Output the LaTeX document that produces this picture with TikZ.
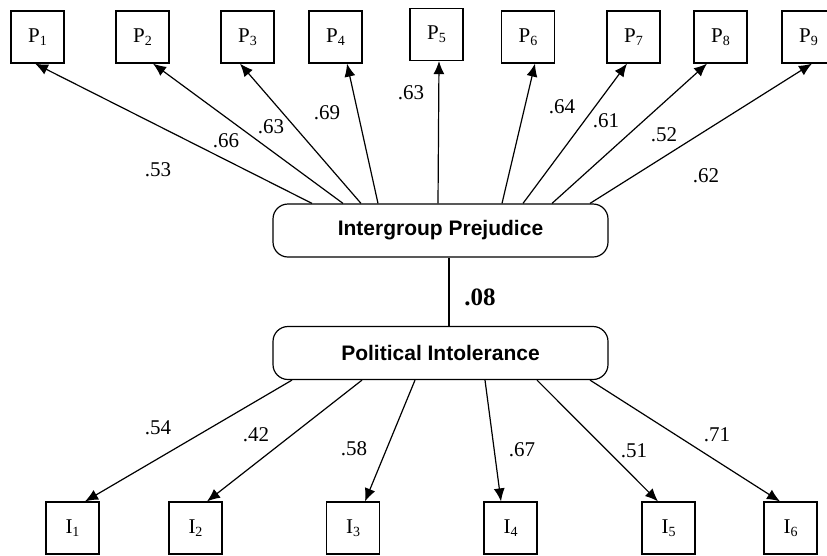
\documentclass[tikz,border=0pt]{standalone}
\usepackage{fontspec}
\setmainfont{Liberation Serif}
\newfontfamily\boxfont{Liberation Sans}
\usetikzlibrary{arrows.meta}
\tikzset{
  obsbox/.style={draw, line width=1.2pt, minimum width=53pt, minimum height=52pt, inner sep=0pt, font=\fontsize{21}{24}\selectfont},
  latbox/.style={draw, line width=1.2pt, rounded corners=15pt, minimum width=335pt, minimum height=53pt, inner sep=0pt, font=\boxfont\bfseries\fontsize{21}{24}\selectfont},
  load/.style={line width=1.2pt, -{Latex[length=13pt,width=11pt]}},
  lbl/.style={inner sep=0pt, font=\fontsize{21}{24}\selectfont}
}
\newcommand{\subl}[2]{#1\raisebox{-3pt}{\fontsize{14}{16}\selectfont #2}}
\begin{document}
\begin{tikzpicture}[x=1pt,y=-1pt]
\useasboundingbox (0,0) rectangle (827,555);
\fill[white] (0,0) rectangle (827,555);
% latent boxes
\node[latbox] (IP) at (440.5,230.5) {Intergroup Prejudice};
\node[latbox] (PI) at (440.5,353) {Political Intolerance};
% P boxes
\node[obsbox] (P1) at (37.5,37) {\raisebox{3pt}{\subl{P}{1}}};
\node[obsbox] (P2) at (142.5,37) {\raisebox{3pt}{\subl{P}{2}}};
\node[obsbox] (P3) at (247.5,37) {\raisebox{3pt}{\subl{P}{3}}};
\node[obsbox] (P4) at (335.5,37) {\raisebox{3pt}{\subl{P}{4}}};
\node[obsbox] (P5) at (436.5,34.5) {\raisebox{3pt}{\subl{P}{5}}};
\node[obsbox] (P6) at (528,37) {\raisebox{3pt}{\subl{P}{6}}};
\node[obsbox] (P7) at (633.5,37) {\raisebox{3pt}{\subl{P}{7}}};
\node[obsbox] (P8) at (720.5,37) {\raisebox{3pt}{\subl{P}{8}}};
\node[obsbox] (P9) at (808.5,37) {\raisebox{3pt}{\subl{P}{9}}};
% I boxes
\node[obsbox] (I1) at (72.5,528) {\raisebox{3pt}{\subl{I}{1}}};
\node[obsbox] (I2) at (195.5,528) {\raisebox{3pt}{\subl{I}{2}}};
\node[obsbox] (I3) at (353,528) {\raisebox{3pt}{\subl{I}{3}}};
\node[obsbox] (I4) at (510.5,528) {\raisebox{3pt}{\subl{I}{4}}};
\node[obsbox] (I5) at (668.5,528) {\raisebox{3pt}{\subl{I}{5}}};
\node[obsbox] (I6) at (790.5,528) {\raisebox{3pt}{\subl{I}{6}}};
% top loadings
\draw[load] ([xshift=-128.5pt]IP.north) -- ([xshift=-2.5pt]P1.south);
\draw[load] ([xshift=-97.5pt]IP.north) -- ([xshift=10.5pt]P2.south);
\draw[load] ([xshift=-79.5pt]IP.north) -- ([xshift=-7.5pt]P3.south);
\draw[load] ([xshift=-62.5pt]IP.north) -- ([xshift=11.5pt]P4.south);
\draw[load] ([xshift=-2.5pt]IP.north) -- ([xshift=2.5pt]P5.south);
\draw[load] ([xshift=61.5pt]IP.north) -- ([xshift=7pt]P6.south);
\draw[load] ([xshift=82.5pt]IP.north) -- ([xshift=-6.5pt]P7.south);
\draw[load] ([xshift=111.5pt]IP.north) -- ([xshift=-13.5pt]P8.south);
\draw[load] ([xshift=149.5pt]IP.north) -- ([xshift=3.5pt]P9.south);
% bottom loadings
\draw[load] ([xshift=-148.5pt]PI.south) -- ([xshift=12.5pt]I1.north);
\draw[load] ([xshift=-78.5pt]PI.south) -- ([xshift=11.5pt]I2.north);
\draw[load] ([xshift=-25.5pt]PI.south) -- ([xshift=12pt]I3.north);
\draw[load] ([xshift=44.5pt]PI.south) -- ([xshift=-9.5pt]I4.north);
\draw[load] ([xshift=96.5pt]PI.south) -- ([xshift=-10.5pt]I5.north);
\draw[load] ([xshift=149.5pt]PI.south) -- ([xshift=-10.5pt]I6.north);
% correlation
\draw[line width=1.2pt] ([xshift=8.5pt]IP.south) -- ([xshift=8.5pt]PI.north);
\node[lbl, font=\bfseries\fontsize{25}{28}\selectfont] (r) at (480,297) {.08};
% labels top
\node[lbl] (l1) at (158,170) {.53};
\node[lbl] (l2) at (226,141) {.66};
\node[lbl] (l3) at (271,127) {.63};
\node[lbl] (l4) at (327,113) {.69};
\node[lbl] (l5) at (411,93) {.63};
\node[lbl] (l6) at (562,107) {.64};
\node[lbl] (l7) at (606,121) {.61};
\node[lbl] (l8) at (664,135) {.52};
\node[lbl] (l9) at (706,176) {.62};
% labels bottom
\node[lbl] (m1) at (158,428) {.54};
\node[lbl] (m2) at (256,435) {.42};
\node[lbl] (m3) at (354,449) {.58};
\node[lbl] (m4) at (522,450) {.67};
\node[lbl] (m5) at (634,451) {.51};
\node[lbl] (m6) at (717,435) {.71};
\end{tikzpicture}
\end{document}
